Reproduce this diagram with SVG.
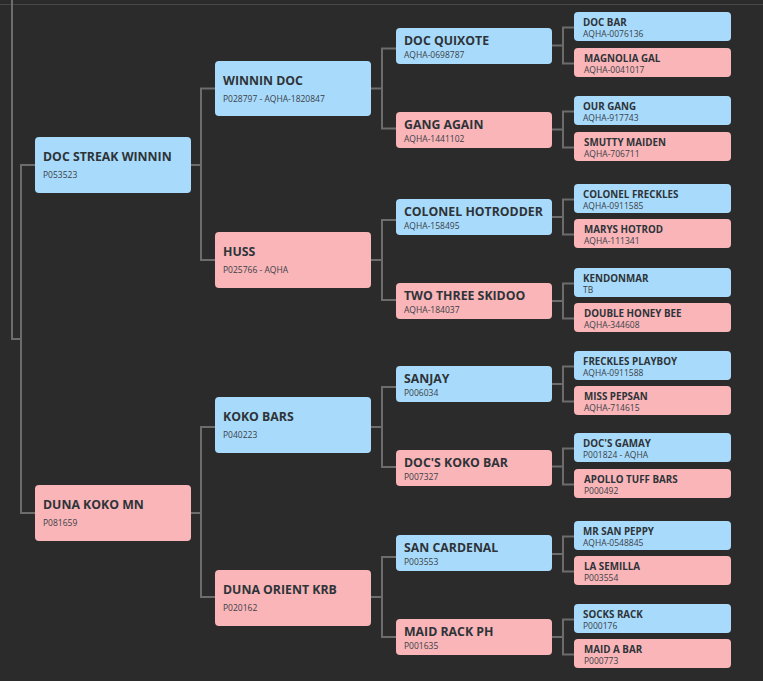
<svg xmlns="http://www.w3.org/2000/svg" width="763" height="681" viewBox="0 0 763 681">
<style>
.bg{fill:#2b2b2b}
.m{fill:#a8dbfb}
.f{fill:#f9b5b8}
.ln{fill:none;stroke:#6c6c6c;stroke-width:2}
.t{font-family:"Open Sans","Noto Sans",sans-serif;font-weight:700;fill:#2e3338}
.t1{font-size:12.3px}
.t4{font-size:9.8px}
.s{font-family:"Open Sans","Noto Sans",sans-serif;font-size:8.5px;fill:#3a4047}
</style>
<rect class="bg" x="0" y="0" width="763" height="681"/>
<line x1="0" y1="4.5" x2="763" y2="4.5" stroke="#474747" stroke-width="1"/>
<g id="connectors">
<path class="ln" d="M12,0 V339 H21"/>
<path class="ln" d="M35,165 H21 V513 H35"/>
<path class="ln" d="M191,165 H201"/>
<path class="ln" d="M215,88.5 H201 V260 H215"/>
<path class="ln" d="M191,513 H201"/>
<path class="ln" d="M215,427 H201 V597 H215"/>
<path class="ln" d="M371,88.5 H382"/>
<path class="ln" d="M396,48.5 H382 V128.5 H396"/>
<path class="ln" d="M371,260 H382"/>
<path class="ln" d="M396,220 H382 V300 H396"/>
<path class="ln" d="M371,427 H382"/>
<path class="ln" d="M396,387 H382 V467 H396"/>
<path class="ln" d="M371,597 H382"/>
<path class="ln" d="M396,557 H382 V637 H396"/>
<path class="ln" d="M552,45.5 H563"/>
<path class="ln" d="M574,27.5 H563 V63.5 H574"/>
<path class="ln" d="M552,129.5 H563"/>
<path class="ln" d="M574,111.5 H563 V147.5 H574"/>
<path class="ln" d="M552,217 H563"/>
<path class="ln" d="M574,199.5 H563 V234.5 H574"/>
<path class="ln" d="M552,301 H563"/>
<path class="ln" d="M574,283.5 H563 V318.5 H574"/>
<path class="ln" d="M552,384 H563"/>
<path class="ln" d="M574,366.5 H563 V401.5 H574"/>
<path class="ln" d="M552,466.5 H563"/>
<path class="ln" d="M574,448.5 H563 V484.5 H574"/>
<path class="ln" d="M552,554 H563"/>
<path class="ln" d="M574,536.5 H563 V571.5 H574"/>
<path class="ln" d="M552,637 H563"/>
<path class="ln" d="M574,619.5 H563 V654.5 H574"/>
</g>
<g id="n-doc-streak-winnin"><rect class="m" x="35" y="137" width="156" height="56" rx="4"/><text class="t t1" x="43" y="161">DOC STREAK WINNIN</text><text class="s" x="43" y="178">P053523</text></g>
<g id="n-duna-koko-mn"><rect class="f" x="35" y="485" width="156" height="56" rx="4"/><text class="t t1" x="43" y="509">DUNA KOKO MN</text><text class="s" x="43" y="526">P081659</text></g>
<g id="n-winnin-doc"><rect class="m" x="215" y="61" width="156" height="55" rx="4"/><text class="t t1" x="223" y="85">WINNIN DOC</text><text class="s" x="223" y="102">P028797 - AQHA-1820847</text></g>
<g id="n-huss"><rect class="f" x="215" y="232" width="156" height="56" rx="4"/><text class="t t1" x="223" y="256">HUSS</text><text class="s" x="223" y="273">P025766 - AQHA</text></g>
<g id="n-koko-bars"><rect class="m" x="215" y="397" width="156" height="56" rx="4"/><text class="t t1" x="223" y="421">KOKO BARS</text><text class="s" x="223" y="438">P040223</text></g>
<g id="n-duna-orient-krb"><rect class="f" x="215" y="570" width="156" height="56" rx="4"/><text class="t t1" x="223" y="594">DUNA ORIENT KRB</text><text class="s" x="223" y="611">P020162</text></g>
<g id="n-doc-quixote"><rect class="m" x="396" y="28" width="156" height="36" rx="4"/><text class="t t1" x="404" y="45">DOC QUIXOTE</text><text class="s" x="404" y="57.5">AQHA-0698787</text></g>
<g id="n-gang-again"><rect class="f" x="396" y="112" width="156" height="36" rx="4"/><text class="t t1" x="404" y="129">GANG AGAIN</text><text class="s" x="404" y="141.5">AQHA-1441102</text></g>
<g id="n-colonel-hotrodder"><rect class="m" x="396" y="199" width="156" height="36" rx="4"/><text class="t t1" x="404" y="216">COLONEL HOTRODDER</text><text class="s" x="404" y="228.5">AQHA-158495</text></g>
<g id="n-two-three-skidoo"><rect class="f" x="396" y="283" width="156" height="36" rx="4"/><text class="t t1" x="404" y="300">TWO THREE SKIDOO</text><text class="s" x="404" y="312.5">AQHA-184037</text></g>
<g id="n-sanjay"><rect class="m" x="396" y="366" width="156" height="36" rx="4"/><text class="t t1" x="404" y="383">SANJAY</text><text class="s" x="404" y="395.5">P006034</text></g>
<g id="n-docs-koko-bar"><rect class="f" x="396" y="450" width="156" height="36" rx="4"/><text class="t t1" x="404" y="467">DOC'S KOKO BAR</text><text class="s" x="404" y="479.5">P007327</text></g>
<g id="n-san-cardenal"><rect class="m" x="396" y="535" width="156" height="36" rx="4"/><text class="t t1" x="404" y="552">SAN CARDENAL</text><text class="s" x="404" y="564.5">P003553</text></g>
<g id="n-maid-rack-ph"><rect class="f" x="396" y="619" width="156" height="36" rx="4"/><text class="t t1" x="404" y="636">MAID RACK PH</text><text class="s" x="404" y="648.5">P001635</text></g>
<g id="n-doc-bar"><rect class="m" x="574" y="12" width="157" height="29" rx="4"/><text class="t t4" x="583" y="26">DOC BAR</text><text class="s" x="583" y="37">AQHA-0076136</text></g>
<g id="n-magnolia-gal"><rect class="f" x="574" y="48" width="157" height="29" rx="4"/><text class="t t4" x="584" y="62">MAGNOLIA GAL</text><text class="s" x="584" y="73">AQHA-0041017</text></g>
<g id="n-our-gang"><rect class="m" x="574" y="96" width="157" height="29" rx="4"/><text class="t t4" x="583" y="110">OUR GANG</text><text class="s" x="583" y="121">AQHA-917743</text></g>
<g id="n-smutty-maiden"><rect class="f" x="574" y="132" width="157" height="29" rx="4"/><text class="t t4" x="584" y="146">SMUTTY MAIDEN</text><text class="s" x="584" y="157">AQHA-706711</text></g>
<g id="n-colonel-freckles"><rect class="m" x="574" y="184" width="157" height="29" rx="4"/><text class="t t4" x="583" y="198">COLONEL FRECKLES</text><text class="s" x="583" y="209">AQHA-0911585</text></g>
<g id="n-marys-hotrod"><rect class="f" x="574" y="219" width="157" height="29" rx="4"/><text class="t t4" x="584" y="233">MARYS HOTROD</text><text class="s" x="584" y="244">AQHA-111341</text></g>
<g id="n-kendonmar"><rect class="m" x="574" y="268" width="157" height="29" rx="4"/><text class="t t4" x="583" y="282">KENDONMAR</text><text class="s" x="583" y="293">TB</text></g>
<g id="n-double-honey-bee"><rect class="f" x="574" y="303" width="157" height="29" rx="4"/><text class="t t4" x="584" y="317">DOUBLE HONEY BEE</text><text class="s" x="584" y="328">AQHA-344608</text></g>
<g id="n-freckles-playboy"><rect class="m" x="574" y="351" width="157" height="29" rx="4"/><text class="t t4" x="583" y="365">FRECKLES PLAYBOY</text><text class="s" x="583" y="376">AQHA-0911588</text></g>
<g id="n-miss-pepsan"><rect class="f" x="574" y="386" width="157" height="29" rx="4"/><text class="t t4" x="584" y="400">MISS PEPSAN</text><text class="s" x="584" y="411">AQHA-714615</text></g>
<g id="n-docs-gamay"><rect class="m" x="574" y="433" width="157" height="29" rx="4"/><text class="t t4" x="583" y="447">DOC'S GAMAY</text><text class="s" x="583" y="458">P001824 - AQHA</text></g>
<g id="n-apollo-tuff-bars"><rect class="f" x="574" y="469" width="157" height="29" rx="4"/><text class="t t4" x="584" y="483">APOLLO TUFF BARS</text><text class="s" x="584" y="494">P000492</text></g>
<g id="n-mr-san-peppy"><rect class="m" x="574" y="521" width="157" height="29" rx="4"/><text class="t t4" x="583" y="535">MR SAN PEPPY</text><text class="s" x="583" y="546">AQHA-0548845</text></g>
<g id="n-la-semilla"><rect class="f" x="574" y="556" width="157" height="29" rx="4"/><text class="t t4" x="584" y="570">LA SEMILLA</text><text class="s" x="584" y="581">P003554</text></g>
<g id="n-socks-rack"><rect class="m" x="574" y="604" width="157" height="29" rx="4"/><text class="t t4" x="583" y="618">SOCKS RACK</text><text class="s" x="583" y="629">P000176</text></g>
<g id="n-maid-a-bar"><rect class="f" x="574" y="639" width="157" height="29" rx="4"/><text class="t t4" x="584" y="653">MAID A BAR</text><text class="s" x="584" y="664">P000773</text></g>
</svg>
